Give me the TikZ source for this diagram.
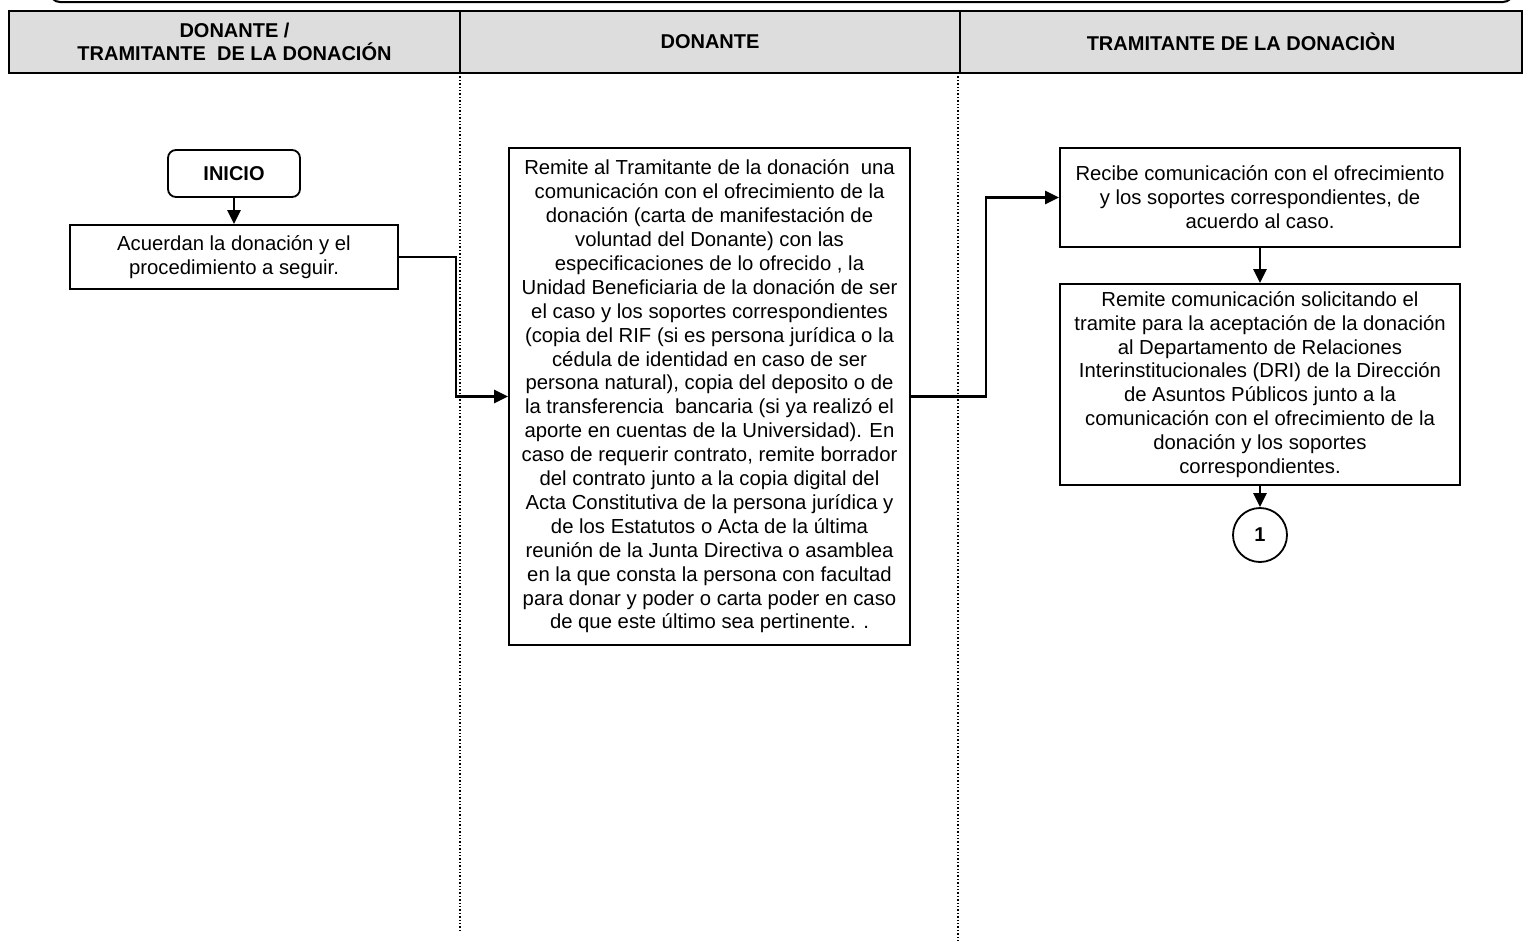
\documentclass[tikz,border=0pt]{standalone}
\usepackage{fontspec}
\setmainfont{Liberation Sans}
\usetikzlibrary{arrows.meta}
\definecolor{hdrgray}{HTML}{DDDDDD}
\begin{document}
\begin{tikzpicture}[x=1pt,y=-1pt,
  box/.style={draw,line width=1.8pt,fill=white,inner sep=0pt,align=center,
    font=\fontsize{20.3}{23.9}\selectfont},
  hdr/.style={draw,line width=2pt,fill=hdrgray,inner sep=0pt,align=center,
    font=\bfseries\fontsize{20}{23}\selectfont},
  flow/.style={line width=2.6pt,-{Triangle[length=14pt,width=13pt]}},
  lane/.style={line width=1.4pt,dotted}]
\useasboundingbox (0,0) rectangle (1531,943);

% outer title frame, mostly above the page
\draw[line width=2pt,rounded corners=10pt] (50,-40) rectangle (1513,2);

% swimlane headers
\node[hdr,minimum width=451,minimum height=62] (h1) at (234.5,42)
  {DONANTE /\\TRAMITANTE\ \ DE LA DONACIÓN};
\node[hdr,minimum width=500,minimum height=62] (h2) at (710,42) {DONANTE};
\node[hdr,minimum width=562,minimum height=62] (h3) at (1241,42) {TRAMITANTE DE LA DONACIÒN};

% lane separators
\coordinate (l1a) at (460,73);
\coordinate (l1b) at (460,932);
\coordinate (l2a) at (958,73);
\coordinate (l2b) at (958,943);
\draw[lane] (l1a) -- (l1b);
\draw[lane] (l2a) -- (l2b);

% steps
\node[box,rounded corners=8pt,minimum width=132,minimum height=47,font=\bfseries\fontsize{20}{23}\selectfont]
  (inicio) at (234,173.5) {INICIO};
\node[box,minimum width=328,minimum height=64] (acuerdan) at (234,257)
  {Acuerdan la donación y el\\procedimiento a seguir.};
\node[box,minimum width=401,minimum height=497] (donante) at (709.5,396.5)
  {Remite al Tramitante de la donación\ \ una\\
   comunicación con el ofrecimiento de la\\
   donación (carta de manifestación de\\
   voluntad del Donante) con las\\
   especificaciones de lo ofrecido , la\\
   Unidad Beneficiaria de la donación de ser\\
   el caso y los soportes correspondientes\\
   (copia del RIF (si es persona jurídica o la\\
   cédula de identidad en caso de ser\\
   persona natural), copia del deposito o de\\
   la transferencia\ \ bancaria (si ya realizó el\\
   aporte en cuentas de la Universidad). En\\
   caso de requerir contrato, remite borrador\\
   del contrato junto a la copia digital del\\
   Acta Constitutiva de la persona jurídica y\\
   de los Estatutos o Acta de la última\\
   reunión de la Junta Directiva o asamblea\\
   en la que consta la persona con facultad\\
   para donar y poder o carta poder en caso\\
   de que este último sea pertinente. .};
\node[box,minimum width=400,minimum height=99] (recibe) at (1260,197.5)
  {Recibe comunicación con el ofrecimiento\\
   y los soportes correspondientes, de\\
   acuerdo al caso.};
\node[box,minimum width=400,minimum height=201] (remite) at (1260,384.5)
  {Remite comunicación solicitando el\\
   tramite para la aceptación de la donación\\
   al Departamento de Relaciones\\
   Interinstitucionales (DRI) de la Dirección\\
   de Asuntos Públicos junto a la\\
   comunicación con el ofrecimiento de la\\
   donación y los soportes\\
   correspondientes.};
\node[box,circle,minimum size=54,font=\bfseries\fontsize{20}{23}\selectfont] (c1) at (1260,535) {1};

% connectors
\draw[flow] (inicio) -- (acuerdan);
\draw[flow] (acuerdan.east) -- ++(57,0) |- (donante.west);
\draw[flow] (donante.east) -- ++(75,0) |- (recibe.west);
\draw[flow] (recibe) -- (remite);
\draw[flow] (remite) -- (c1);
\end{tikzpicture}
\end{document}
